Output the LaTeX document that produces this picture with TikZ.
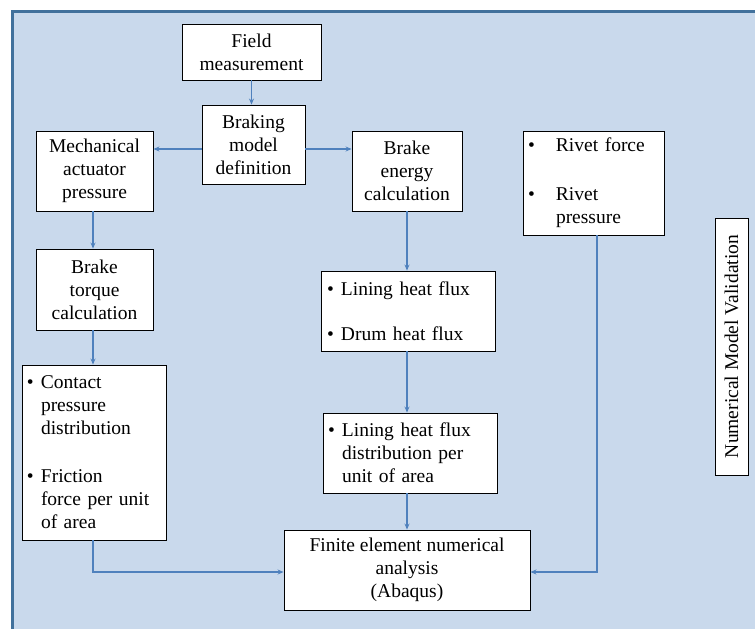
\documentclass[tikz,border=0pt]{standalone}
\usepackage{fontspec}
\setmainfont{Liberation Serif}
\usetikzlibrary{arrows.meta}
\definecolor{bgblue}{HTML}{C9D9EC}
\definecolor{frameblue}{HTML}{41719C}
\definecolor{arrowblue}{HTML}{4F81BD}
\newcommand{\bul}[1][14pt]{\makebox[#1][l]{\textbullet}}
\tikzset{
  box/.style={draw=black, fill=white, line width=0.9pt, inner sep=0pt, align=center,
    font=\fontsize{19.5}{23}\selectfont},
  conn/.style={draw=arrowblue, line width=1.1pt, -{Stealth[length=6pt,width=5pt]}},
}
\begin{document}
\begin{tikzpicture}[x=1pt,y=-1pt]
\useasboundingbox (0,0) rectangle (755,629);
\clip (0,0) rectangle (755,629);
\fill[white] (0,0) rectangle (755,629);
\draw[fill=bgblue, draw=frameblue, line width=2.5pt] (12.5,11.5) rectangle (780,660);

\node[box, minimum width=139pt, minimum height=56pt] (fm) at (251.5,52) {Field\\measurement};
\node[box, minimum width=103pt, minimum height=79pt] (bmd) at (253.5,144.5) {Braking\\model\\definition};
\node[box, minimum width=117pt, minimum height=80pt] (map) at (94.5,171) {Mechanical\\actuator\\pressure};
\node[box, minimum width=110pt, minimum height=80pt] (bec) at (407,171) {Brake\\energy\\calculation};
\node[box, minimum width=141pt, minimum height=104pt, align=left, text width=131pt, inner xsep=5pt] (rv) at (593.5,183)
  {\bul[28pt]Rivet force\\[26pt]\bul[28pt]Rivet\\\hspace*{28pt}pressure};
\node[box, minimum width=33pt, minimum height=257pt] (val) at (731.5,346.5) {};
\node[font=\fontsize{19.5}{23}\selectfont, rotate=90, inner sep=0pt] (valtext) at (val.center) {Numerical Model Validation};
\node[box, minimum width=117pt, minimum height=81pt] (btc) at (94.5,289.5) {Brake\\torque\\calculation};
\node[box, minimum width=174pt, minimum height=80pt, align=left, text width=162pt, inner xsep=6pt] (lhf) at (408,311)
  {\bul Lining heat flux\\[22pt]\bul Drum heat flux};
\node[box, minimum width=144pt, minimum height=175pt, align=left, text width=134pt, inner xsep=5pt] (cp) at (94,452.5)
  {\bul Contact\\\hspace*{14pt}pressure\\\hspace*{14pt}distribution\\[25pt]\bul Friction\\\hspace*{14pt}force per unit\\\hspace*{14pt}of area};
\node[box, minimum width=174pt, minimum height=80pt, align=left, text width=164pt, inner xsep=5pt] (lhfd) at (410,453)
  {\bul Lining heat flux\\\hspace*{14pt}distribution per\\\hspace*{14pt}unit of area};
\node[box, minimum width=246pt, minimum height=80pt] (fe) at (407,570) {Finite element numerical\\analysis\\(Abaqus)};

\draw[conn] (fm.south) -- (fm.south |- bmd.north);
\draw[conn] ([yshift=-4.5pt]bmd.west) -- ([yshift=-4.5pt]map.east |- bmd.west);
\draw[conn] ([yshift=-4.5pt]bmd.east) -- ([yshift=-4.5pt]bec.west |- bmd.east);
\draw[conn] ([xshift=-1.5pt]map.south) -- ([xshift=-1.5pt]btc.north);
\draw[conn] ([xshift=-1.5pt]btc.south) -- ([xshift=-1.5pt]btc.south |- cp.north);
\draw[conn] (bec.south) -- (bec.south |- lhf.north);
\draw[conn] (bec.south |- lhf.south) -- (bec.south |- lhfd.north);
\draw[conn] (bec.south |- lhfd.south) -- (fe.north);
\draw[conn] ([xshift=-1pt]cp.south) |- ([yshift=-2pt]fe.west);
\draw[conn] ([xshift=3.5pt]rv.south) |- ([yshift=-2pt]fe.east);
\end{tikzpicture}
\end{document}
